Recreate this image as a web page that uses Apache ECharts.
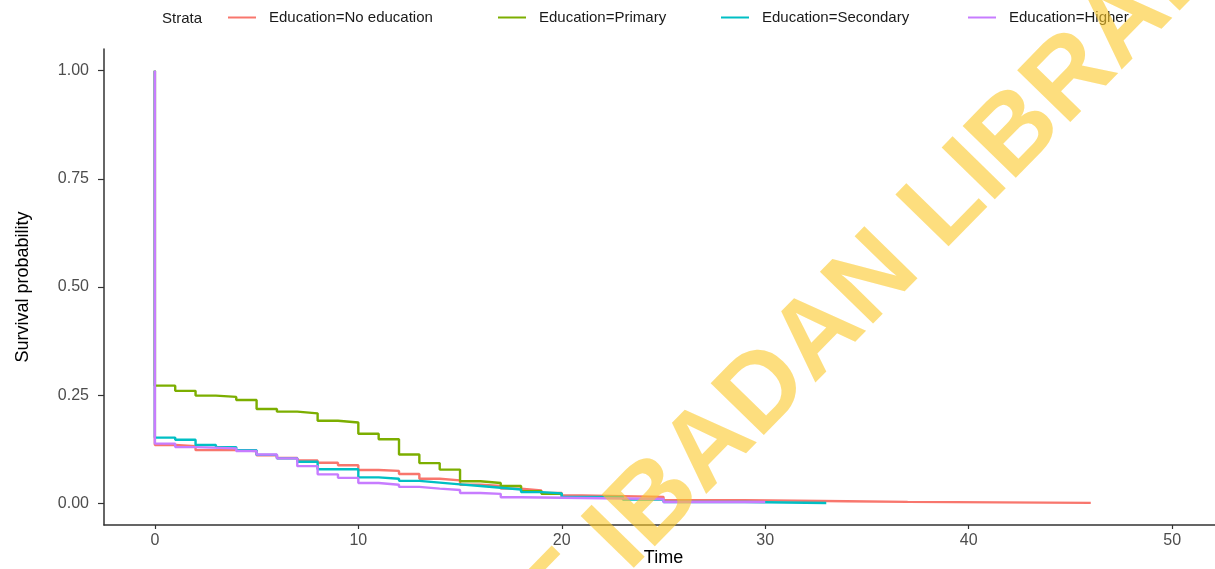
<!DOCTYPE html>
<html>
<head>
<meta charset="utf-8">
<script src="https://cdn.jsdelivr.net/npm/echarts@6/dist/echarts.min.js"></script>
<style>
  html, body { margin: 0; padding: 0; background: #ffffff; }
  #chart { width: 1215px; height: 569px; }
</style>
</head>
<body>
<div id="chart"></div>
<script>
// ---- Data ----
const strataNames = ['Education=No education', 'Education=Primary', 'Education=Secondary', 'Education=Higher'];
const strataColors = ['#F8766D', '#7CAE00', '#00BFC4', '#C77CFF'];

const noEduTime = [0, 0, 1, 2, 4, 5, 6, 7, 8, 9, 10, 11, 12, 13, 14, 15, 16, 17, 18, 19, 20, 21, 25, 29, 34, 37, 46];
const noEduSurv = [1, 0.135, 0.132, 0.123, 0.121, 0.111, 0.105, 0.099, 0.094, 0.088, 0.077, 0.075, 0.068, 0.057, 0.053, 0.043, 0.040, 0.034, 0.030, 0.024, 0.018, 0.015, 0.0074, 0.005, 0.0035, 0.0012, 0.0012];

const primaryTime = [0, 0, 1, 2, 3, 4, 5, 6, 7, 8, 9, 10, 11, 12, 13, 14, 15, 16, 17, 18, 19, 20, 21];
const primarySurv = [1, 0.272, 0.260, 0.249, 0.246, 0.239, 0.218, 0.212, 0.208, 0.191, 0.187, 0.161, 0.148, 0.113, 0.093, 0.078, 0.051, 0.047, 0.040, 0.028, 0.022, 0.014, 0.014];

const secondaryTime = [0, 0, 1, 2, 3, 4, 5, 6, 7, 8, 10, 11, 12, 13, 14, 15, 16, 17, 18, 19, 20, 23, 25, 29, 33];
const secondarySurv = [1, 0.152, 0.147, 0.135, 0.130, 0.123, 0.112, 0.104, 0.096, 0.079, 0.060, 0.057, 0.052, 0.048, 0.044, 0.040, 0.036, 0.032, 0.026, 0.023, 0.015, 0.009, 0.003, 0.001, 0.001];

const higherTime = [0, 0, 1, 2, 4, 5, 6, 7, 8, 9, 10, 11, 12, 13, 14, 15, 16, 17, 18, 25, 30];
const higherSurv = [1, 0.138, 0.130, 0.127, 0.121, 0.113, 0.104, 0.086, 0.067, 0.059, 0.047, 0.043, 0.038, 0.034, 0.031, 0.024, 0.022, 0.014, 0.010, 0.003, 0.003];

const xTicks = [0, 10, 20, 30, 40, 50];
const yTicks = [0, 0.25, 0.5, 0.75, 1];
const yTickLabels = ['0.00', '0.25', '0.50', '0.75', '1.00'];

const legendTitle = 'Strata';
const xTitle = 'Time';
const yTitle = 'Survival probability';
const watermarkLeft = 'UNIVERSITY OF ';
const watermarkRight = 'IBADAN LIBRARY';

// ---- Build ----
const times = [noEduTime, primaryTime, secondaryTime, higherTime];
const survs = [noEduSurv, primarySurv, secondarySurv, higherSurv];
const FONT = 'Liberation Sans, Arial, Helvetica, sans-serif';

const series = strataNames.map((name, i) => ({
  name: name,
  type: 'line',
  step: 'end',
  showSymbol: false,
  symbol: 'none',
  animation: false,
  clip: false,
  lineStyle: { color: strataColors[i], width: 2.4 },
  itemStyle: { color: strataColors[i] },
  data: times[i].map((t, k) => [t, survs[i][k]])
}));

const legendLefts = [228, 498, 721, 968];
const legends = strataNames.map((name, i) => ({
  data: [name],
  left: legendLefts[i],
  top: 10,
  padding: 0,
  icon: 'rect',
  itemWidth: 28,
  itemHeight: 2,
  selectedMode: false,
  textStyle: { fontSize: 15, color: '#1a1a1a', fontFamily: FONT, padding: [0, 0, 0, 8] }
}));

const chart = echarts.init(document.getElementById('chart'), null, { renderer: 'canvas' });
const rot = 45.6 * Math.PI / 180;
const ox = 646, oy = 590;

chart.setOption({
  backgroundColor: '#ffffff',
  animation: false,
  textStyle: { fontFamily: FONT },
  legend: legends,
  grid: { left: 104, top: 49, width: 1119, height: 476, containLabel: false, outerBoundsMode: 'none' },
  xAxis: {
    type: 'value',
    min: -2.5,
    max: 52.5,
    name: xTitle,
    nameLocation: 'middle',
    nameGap: 24,
    nameMoveOverlap: false,
    nameTextStyle: { fontSize: 18, color: '#000000', fontFamily: FONT },
    axisLine: { onZero: false, lineStyle: { color: '#333333', width: 1.5 } },
    axisTick: { show: true, length: 4, customValues: xTicks, lineStyle: { color: '#333333', width: 1.2 } },
    axisLabel: { customValues: xTicks, fontSize: 16, color: '#4d4d4d', margin: 8, fontFamily: FONT },
    splitLine: { show: false }
  },
  yAxis: {
    type: 'value',
    min: -0.05,
    max: 1.05,
    name: yTitle,
    nameLocation: 'middle',
    nameGap: 72,
    nameMoveOverlap: false,
    nameTextStyle: { fontSize: 18, color: '#000000', fontFamily: FONT },
    axisLine: { onZero: false, lineStyle: { color: '#333333', width: 1.5 } },
    axisTick: { show: true, length: 6, customValues: yTicks, lineStyle: { color: '#333333', width: 1.2 } },
    axisLabel: {
      customValues: yTicks,
      fontSize: 16,
      color: '#4d4d4d',
      margin: 15,
      fontFamily: FONT,
      formatter: (v) => yTickLabels[yTicks.indexOf(v)] !== undefined ? yTickLabels[yTicks.indexOf(v)] : v.toFixed(2)
    },
    splitLine: { show: false }
  },
  graphic: [
    {
      type: 'text',
      left: 162,
      top: 11,
      style: { text: legendTitle, fontSize: 15, fill: '#1a1a1a', fontFamily: FONT }
    },
    {
      type: 'text',
      x: ox, y: oy,
      rotation: rot,
      z: 100,
      silent: true,
      style: {
        text: watermarkRight,
        fontSize: 108,
        fontWeight: 'bold',
        fontFamily: FONT,
        fill: 'rgba(252, 200, 40, 0.6)',
        align: 'left',
        verticalAlign: 'bottom'
      }
    },
    {
      type: 'text',
      x: ox, y: oy,
      rotation: rot,
      z: 100,
      silent: true,
      style: {
        text: watermarkLeft,
        fontSize: 108,
        fontWeight: 'bold',
        fontFamily: FONT,
        fill: 'rgba(252, 200, 40, 0.6)',
        align: 'right',
        verticalAlign: 'bottom'
      }
    }
  ],
  series: series
});
</script>
</body>
</html>
